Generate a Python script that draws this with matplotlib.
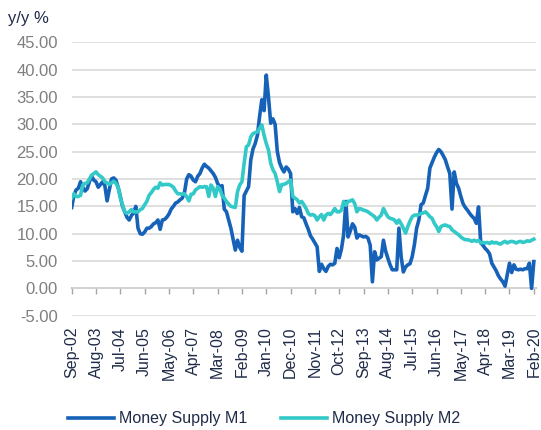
import pandas as pd
import matplotlib
matplotlib.use("Agg")
import matplotlib.pyplot as plt

plt.rcParams['font.family'] = ['Liberation Sans', 'DejaVu Sans']

# monthly, Sep-2002 .. Feb-2020
months = pd.date_range('2002-09-01', periods=210, freq='MS')

m1 = [14.8, 17.0, 18.0, 18.3, 19.5, 18.5, 17.8, 18.2, 19.5, 20.5,
      19.8, 19.5, 18.5, 19.0, 19.5, 18.8, 16.0, 18.0, 20.0, 20.2,
      19.8, 18.5, 16.8, 15.0, 14.0, 13.0, 12.5, 13.3, 13.8, 15.0,
      11.0, 10.0, 9.9, 10.3, 11.0, 11.0, 11.3, 11.8, 12.0, 12.5,
      10.8, 12.5, 12.6, 13.0, 13.6, 14.5, 15.0, 15.6, 15.8, 16.2,
      16.5, 17.5, 20.0, 20.8, 20.5, 19.8, 19.5, 20.5, 21.0, 22.0,
      22.7, 22.3, 22.0, 21.5, 21.0, 20.3, 19.2, 18.5, 18.8, 14.5,
      14.0, 12.5, 11.0, 9.0, 7.0, 8.8, 7.5, 6.8, 17.0, 17.8,
      18.6, 23.5, 25.5, 26.5, 28.0, 31.5, 34.5, 32.5, 39.0, 35.0,
      30.2, 31.0, 30.0, 25.0, 23.0, 22.0, 21.3, 22.2, 21.8, 21.0,
      14.0, 14.6, 13.7, 14.8, 13.1, 12.9, 11.8, 10.8, 9.6, 9.0,
      8.3, 7.6, 3.1, 4.4, 3.6, 3.1, 4.0, 4.4, 4.3, 4.6,
      7.3, 5.6, 7.2, 9.8, 15.9, 9.4, 10.5, 11.8, 11.2, 9.2,
      9.8, 9.6, 9.4, 9.5, 9.2, 7.9, 1.2, 6.7, 5.2, 5.5,
      5.8, 8.8, 6.8, 5.5, 4.3, 3.4, 3.4, 3.4, 11.0, 5.8,
      3.0, 3.9, 4.3, 4.5, 5.8, 8.0, 11.0, 12.5, 15.3, 15.6,
      17.0, 18.3, 22.0, 23.0, 24.0, 24.8, 25.4, 25.0, 24.3, 23.5,
      22.2, 21.0, 14.5, 21.3, 19.2, 18.3, 16.8, 15.5, 14.8, 14.3,
      13.7, 13.2, 12.8, 11.9, 14.9, 8.3, 7.9, 7.3, 6.9, 6.3,
      4.6, 3.9, 3.2, 2.3, 1.7, 1.2, 0.4, 2.5, 4.6, 2.9,
      4.3, 3.5, 3.4, 3.5, 3.4, 3.6, 3.6, 4.6, 0.0, 4.9]

m2 = [16.5, 17.3, 16.8, 16.8, 17.0, 18.9, 19.2, 19.3, 20.0, 20.7,
      21.0, 21.3, 20.8, 20.5, 20.2, 19.5, 19.3, 19.0, 19.3, 19.6,
      19.2, 18.5, 16.5, 15.3, 14.0, 13.7, 14.0, 14.4, 14.0, 14.0,
      14.0, 14.4, 14.6, 15.3, 15.9, 17.0, 17.5, 18.1, 18.5, 18.3,
      19.3, 18.9, 19.0, 19.0, 19.0, 18.8, 18.5, 17.8, 17.3, 17.3,
      17.2, 17.3, 16.8, 16.0, 17.2, 17.3, 18.0, 18.3, 18.6, 18.5,
      18.6, 18.6, 16.8, 18.9, 18.3, 16.8, 18.6, 18.2, 17.0, 16.5,
      15.9, 15.4, 15.0, 14.9, 14.8, 17.7, 18.9, 19.5, 22.9, 25.9,
      26.2, 27.7, 28.3, 28.5, 28.6, 29.3, 29.9, 28.0, 26.5, 25.3,
      22.9, 21.7, 21.0, 19.5, 17.7, 19.0, 19.0, 19.2, 19.5, 19.8,
      16.8, 16.5, 16.2, 15.6, 15.9, 15.3, 14.6, 13.7, 13.4, 13.5,
      13.3, 12.5, 13.1, 13.5, 12.5, 13.4, 13.7, 13.5, 14.0, 14.6,
      14.0, 14.0, 14.3, 15.9, 15.2, 15.9, 16.0, 16.2, 15.5, 14.0,
      14.6, 14.5, 14.3, 14.2, 14.0, 13.7, 13.4, 13.1, 12.5, 13.0,
      13.4, 14.6, 13.8, 13.1, 12.8, 12.7, 12.5, 11.9, 12.5, 11.8,
      11.0, 10.1, 11.3, 12.3, 13.1, 13.4, 13.4, 13.5, 13.7, 13.8,
      14.0, 13.6, 13.1, 12.8, 11.9, 11.3, 10.4, 11.3, 11.5, 11.6,
      11.4, 11.3, 10.7, 10.4, 10.1, 9.8, 9.4, 9.1, 8.9, 8.9,
      8.8, 8.6, 8.8, 8.6, 8.8, 8.3, 8.4, 8.3, 8.4, 8.2,
      8.5, 8.3, 8.4, 8.2, 8.1, 8.4, 8.6, 8.3, 8.5, 8.6,
      8.5, 8.3, 8.5, 8.6, 8.4, 8.5, 8.7, 8.6, 8.8, 9.0]

yticks = [-5, 0, 5, 10, 15, 20, 25, 30, 35, 40, 45]

navy = '#1f2b48'
c_m1 = '#1562b8'
c_m2 = '#33c9c8'

fig = plt.figure(figsize=(5.41, 4.30), dpi=100)
ax = fig.add_axes([0.1325, 0.2658, 0.8583, 0.6358])

x = list(range(len(months)))
ax.plot(x, m1, color=c_m1, lw=2.6, label='Money Supply M1', zorder=2,
        solid_joinstyle='round')
ax.plot(x, m2, color=c_m2, lw=2.6, label='Money Supply M2', zorder=3,
        solid_joinstyle='round')

ax.set_xlim(0, 210)
ax.set_ylim(-5, 45)
ax.set_yticks(yticks)
ax.set_yticklabels([f'{v:.2f}' for v in yticks])
ax.yaxis.grid(True, color='#d9d9d9', lw=1.2)
ax.set_axisbelow(True)
for s in ax.spines.values():
    s.set_visible(False)
ax.tick_params(axis='y', length=0, pad=10, labelsize=12, labelcolor='#7f7f7f')

xt = x[::11]
ax.set_xticks(xt)
ax.set_xticklabels([months[i].strftime('%b-%y') for i in xt], rotation=90)
ax.tick_params(axis='x', length=0, pad=8, labelsize=11.5, labelcolor=navy)

# zero line with tick marks
zero = ax.secondary_xaxis(0.1)
zero.set_xticks(xt)
zero.set_xticklabels([])
zero.tick_params(axis='x', length=4, width=1, color='#a6a6a6', direction='out')
zero.spines['bottom'].set_color('#a6a6a6')
zero.spines['bottom'].set_linewidth(1.2)

fig.text(0.015, 0.958, 'y/y %', fontsize=12, color=navy, ha='left', va='center')

fig.legend(loc='center', bbox_to_anchor=(0.488, 0.026), ncol=2, frameon=False,
           fontsize=11.5, handlelength=2.9, handletextpad=0.3, columnspacing=2.1,
           labelcolor=navy)

fig.savefig('out.png', dpi=100)
